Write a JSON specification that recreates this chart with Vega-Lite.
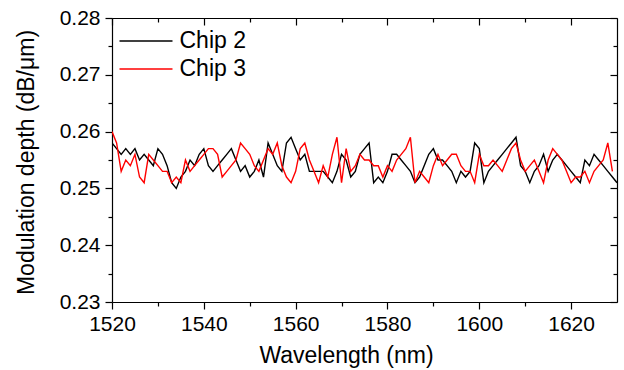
{
  "$schema": "https://vega.github.io/schema/vega-lite/v6.json",
  "width": 505,
  "height": 284,
  "autosize": {"type": "none"},
  "padding": {"left": 112, "top": 18, "right": 7, "bottom": 68},
  "background": "white",
  "config": {
    "view": {"stroke": null},
    "font": "Liberation Sans",
    "axis": {
      "grid": false,
      "domainColor": "black",
      "domainWidth": 1.2,
      "tickColor": "black",
      "tickWidth": 1.2,
      "labelFont": "Liberation Sans",
      "labelFontSize": 21,
      "labelColor": "black",
      "labelFlush": false,
      "labelBound": false,
      "labelOverlap": false,
      "titleFont": "Liberation Sans",
      "titleFontSize": 23,
      "titleFontWeight": "normal",
      "titleColor": "black"
    }
  },
  "datasets": {
    "depth": [
      {"wl":1520,"chip":"Chip 2","v":0.258},{"wl":1521,"chip":"Chip 2","v":0.257},{"wl":1522,"chip":"Chip 2","v":0.256},{"wl":1523,"chip":"Chip 2","v":0.257},{"wl":1524,"chip":"Chip 2","v":0.256},{"wl":1525,"chip":"Chip 2","v":0.257},{"wl":1526,"chip":"Chip 2","v":0.255},{"wl":1527,"chip":"Chip 2","v":0.256},{"wl":1528,"chip":"Chip 2","v":0.255},{"wl":1529,"chip":"Chip 2","v":0.254},
      {"wl":1530,"chip":"Chip 2","v":0.257},{"wl":1531,"chip":"Chip 2","v":0.256},{"wl":1532,"chip":"Chip 2","v":0.254},{"wl":1533,"chip":"Chip 2","v":0.251},{"wl":1534,"chip":"Chip 2","v":0.250},{"wl":1535,"chip":"Chip 2","v":0.252},{"wl":1536,"chip":"Chip 2","v":0.253},{"wl":1537,"chip":"Chip 2","v":0.255},{"wl":1538,"chip":"Chip 2","v":0.254},{"wl":1539,"chip":"Chip 2","v":0.256},
      {"wl":1540,"chip":"Chip 2","v":0.257},{"wl":1541,"chip":"Chip 2","v":0.254},{"wl":1542,"chip":"Chip 2","v":0.253},{"wl":1543,"chip":"Chip 2","v":0.254},{"wl":1544,"chip":"Chip 2","v":0.255},{"wl":1545,"chip":"Chip 2","v":0.256},{"wl":1546,"chip":"Chip 2","v":0.257},{"wl":1547,"chip":"Chip 2","v":0.255},{"wl":1548,"chip":"Chip 2","v":0.253},{"wl":1549,"chip":"Chip 2","v":0.254},
      {"wl":1550,"chip":"Chip 2","v":0.252},{"wl":1551,"chip":"Chip 2","v":0.253},{"wl":1552,"chip":"Chip 2","v":0.255},{"wl":1553,"chip":"Chip 2","v":0.252},{"wl":1554,"chip":"Chip 2","v":0.258},{"wl":1555,"chip":"Chip 2","v":0.256},{"wl":1556,"chip":"Chip 2","v":0.254},{"wl":1557,"chip":"Chip 2","v":0.253},{"wl":1558,"chip":"Chip 2","v":0.258},{"wl":1559,"chip":"Chip 2","v":0.259},
      {"wl":1560,"chip":"Chip 2","v":0.257},{"wl":1561,"chip":"Chip 2","v":0.255},{"wl":1562,"chip":"Chip 2","v":0.256},{"wl":1563,"chip":"Chip 2","v":0.253},{"wl":1564,"chip":"Chip 2","v":0.253},{"wl":1565,"chip":"Chip 2","v":0.253},{"wl":1566,"chip":"Chip 2","v":0.253},{"wl":1567,"chip":"Chip 2","v":0.252},{"wl":1568,"chip":"Chip 2","v":0.251},{"wl":1569,"chip":"Chip 2","v":0.253},
      {"wl":1570,"chip":"Chip 2","v":0.256},{"wl":1571,"chip":"Chip 2","v":0.255},{"wl":1572,"chip":"Chip 2","v":0.252},{"wl":1573,"chip":"Chip 2","v":0.253},{"wl":1574,"chip":"Chip 2","v":0.256},{"wl":1575,"chip":"Chip 2","v":0.257},{"wl":1576,"chip":"Chip 2","v":0.258},{"wl":1577,"chip":"Chip 2","v":0.251},{"wl":1578,"chip":"Chip 2","v":0.252},{"wl":1579,"chip":"Chip 2","v":0.251},
      {"wl":1580,"chip":"Chip 2","v":0.253},{"wl":1581,"chip":"Chip 2","v":0.256},{"wl":1582,"chip":"Chip 2","v":0.256},{"wl":1583,"chip":"Chip 2","v":0.255},{"wl":1584,"chip":"Chip 2","v":0.254},{"wl":1585,"chip":"Chip 2","v":0.253},{"wl":1586,"chip":"Chip 2","v":0.251},{"wl":1587,"chip":"Chip 2","v":0.252},{"wl":1588,"chip":"Chip 2","v":0.254},{"wl":1589,"chip":"Chip 2","v":0.256},
      {"wl":1590,"chip":"Chip 2","v":0.257},{"wl":1591,"chip":"Chip 2","v":0.255},{"wl":1592,"chip":"Chip 2","v":0.255},{"wl":1593,"chip":"Chip 2","v":0.254},{"wl":1594,"chip":"Chip 2","v":0.253},{"wl":1595,"chip":"Chip 2","v":0.251},{"wl":1596,"chip":"Chip 2","v":0.253},{"wl":1597,"chip":"Chip 2","v":0.252},{"wl":1598,"chip":"Chip 2","v":0.253},{"wl":1599,"chip":"Chip 2","v":0.258},
      {"wl":1600,"chip":"Chip 2","v":0.257},{"wl":1601,"chip":"Chip 2","v":0.251},{"wl":1602,"chip":"Chip 2","v":0.253},{"wl":1603,"chip":"Chip 2","v":0.254},{"wl":1604,"chip":"Chip 2","v":0.255},{"wl":1605,"chip":"Chip 2","v":0.256},{"wl":1606,"chip":"Chip 2","v":0.257},{"wl":1607,"chip":"Chip 2","v":0.258},{"wl":1608,"chip":"Chip 2","v":0.259},{"wl":1609,"chip":"Chip 2","v":0.254},
      {"wl":1610,"chip":"Chip 2","v":0.253},{"wl":1611,"chip":"Chip 2","v":0.251},{"wl":1612,"chip":"Chip 2","v":0.253},{"wl":1613,"chip":"Chip 2","v":0.254},{"wl":1614,"chip":"Chip 2","v":0.256},{"wl":1615,"chip":"Chip 2","v":0.253},{"wl":1616,"chip":"Chip 2","v":0.255},{"wl":1617,"chip":"Chip 2","v":0.256},{"wl":1618,"chip":"Chip 2","v":0.255},{"wl":1619,"chip":"Chip 2","v":0.254},
      {"wl":1620,"chip":"Chip 2","v":0.253},{"wl":1621,"chip":"Chip 2","v":0.252},{"wl":1622,"chip":"Chip 2","v":0.251},{"wl":1623,"chip":"Chip 2","v":0.255},{"wl":1624,"chip":"Chip 2","v":0.254},{"wl":1625,"chip":"Chip 2","v":0.256},{"wl":1626,"chip":"Chip 2","v":0.255},{"wl":1627,"chip":"Chip 2","v":0.254},{"wl":1628,"chip":"Chip 2","v":0.253},{"wl":1629,"chip":"Chip 2","v":0.252},
      {"wl":1630,"chip":"Chip 2","v":0.251},
      {"wl":1520,"chip":"Chip 3","v":0.260},{"wl":1521,"chip":"Chip 3","v":0.258},{"wl":1522,"chip":"Chip 3","v":0.253},{"wl":1523,"chip":"Chip 3","v":0.255},{"wl":1524,"chip":"Chip 3","v":0.254},{"wl":1525,"chip":"Chip 3","v":0.256},{"wl":1526,"chip":"Chip 3","v":0.252},{"wl":1527,"chip":"Chip 3","v":0.251},{"wl":1528,"chip":"Chip 3","v":0.256},{"wl":1529,"chip":"Chip 3","v":0.255},
      {"wl":1530,"chip":"Chip 3","v":0.254},{"wl":1531,"chip":"Chip 3","v":0.253},{"wl":1532,"chip":"Chip 3","v":0.253},{"wl":1533,"chip":"Chip 3","v":0.251},{"wl":1534,"chip":"Chip 3","v":0.252},{"wl":1535,"chip":"Chip 3","v":0.251},{"wl":1536,"chip":"Chip 3","v":0.255},{"wl":1537,"chip":"Chip 3","v":0.253},{"wl":1538,"chip":"Chip 3","v":0.254},{"wl":1539,"chip":"Chip 3","v":0.255},
      {"wl":1540,"chip":"Chip 3","v":0.256},{"wl":1541,"chip":"Chip 3","v":0.257},{"wl":1542,"chip":"Chip 3","v":0.257},{"wl":1543,"chip":"Chip 3","v":0.256},{"wl":1544,"chip":"Chip 3","v":0.252},{"wl":1545,"chip":"Chip 3","v":0.253},{"wl":1546,"chip":"Chip 3","v":0.254},{"wl":1547,"chip":"Chip 3","v":0.255},{"wl":1548,"chip":"Chip 3","v":0.258},{"wl":1549,"chip":"Chip 3","v":0.257},
      {"wl":1550,"chip":"Chip 3","v":0.256},{"wl":1551,"chip":"Chip 3","v":0.254},{"wl":1552,"chip":"Chip 3","v":0.253},{"wl":1553,"chip":"Chip 3","v":0.255},{"wl":1554,"chip":"Chip 3","v":0.257},{"wl":1555,"chip":"Chip 3","v":0.256},{"wl":1556,"chip":"Chip 3","v":0.258},{"wl":1557,"chip":"Chip 3","v":0.254},{"wl":1558,"chip":"Chip 3","v":0.252},{"wl":1559,"chip":"Chip 3","v":0.251},
      {"wl":1560,"chip":"Chip 3","v":0.253},{"wl":1561,"chip":"Chip 3","v":0.257},{"wl":1562,"chip":"Chip 3","v":0.258},{"wl":1563,"chip":"Chip 3","v":0.255},{"wl":1564,"chip":"Chip 3","v":0.253},{"wl":1565,"chip":"Chip 3","v":0.251},{"wl":1566,"chip":"Chip 3","v":0.254},{"wl":1567,"chip":"Chip 3","v":0.252},{"wl":1568,"chip":"Chip 3","v":0.256},{"wl":1569,"chip":"Chip 3","v":0.259},
      {"wl":1570,"chip":"Chip 3","v":0.251},{"wl":1571,"chip":"Chip 3","v":0.257},{"wl":1572,"chip":"Chip 3","v":0.253},{"wl":1573,"chip":"Chip 3","v":0.254},{"wl":1574,"chip":"Chip 3","v":0.256},{"wl":1575,"chip":"Chip 3","v":0.255},{"wl":1576,"chip":"Chip 3","v":0.255},{"wl":1577,"chip":"Chip 3","v":0.254},{"wl":1578,"chip":"Chip 3","v":0.254},{"wl":1579,"chip":"Chip 3","v":0.252},
      {"wl":1580,"chip":"Chip 3","v":0.254},{"wl":1581,"chip":"Chip 3","v":0.253},{"wl":1582,"chip":"Chip 3","v":0.255},{"wl":1583,"chip":"Chip 3","v":0.256},{"wl":1584,"chip":"Chip 3","v":0.257},{"wl":1585,"chip":"Chip 3","v":0.259},{"wl":1586,"chip":"Chip 3","v":0.251},{"wl":1587,"chip":"Chip 3","v":0.253},{"wl":1588,"chip":"Chip 3","v":0.252},{"wl":1589,"chip":"Chip 3","v":0.251},
      {"wl":1590,"chip":"Chip 3","v":0.254},{"wl":1591,"chip":"Chip 3","v":0.256},{"wl":1592,"chip":"Chip 3","v":0.254},{"wl":1593,"chip":"Chip 3","v":0.255},{"wl":1594,"chip":"Chip 3","v":0.256},{"wl":1595,"chip":"Chip 3","v":0.256},{"wl":1596,"chip":"Chip 3","v":0.254},{"wl":1597,"chip":"Chip 3","v":0.253},{"wl":1598,"chip":"Chip 3","v":0.253},{"wl":1599,"chip":"Chip 3","v":0.251},
      {"wl":1600,"chip":"Chip 3","v":0.256},{"wl":1601,"chip":"Chip 3","v":0.254},{"wl":1602,"chip":"Chip 3","v":0.254},{"wl":1603,"chip":"Chip 3","v":0.255},{"wl":1604,"chip":"Chip 3","v":0.254},{"wl":1605,"chip":"Chip 3","v":0.253},{"wl":1606,"chip":"Chip 3","v":0.255},{"wl":1607,"chip":"Chip 3","v":0.257},{"wl":1608,"chip":"Chip 3","v":0.258},{"wl":1609,"chip":"Chip 3","v":0.255},
      {"wl":1610,"chip":"Chip 3","v":0.253},{"wl":1611,"chip":"Chip 3","v":0.254},{"wl":1612,"chip":"Chip 3","v":0.255},{"wl":1613,"chip":"Chip 3","v":0.253},{"wl":1614,"chip":"Chip 3","v":0.251},{"wl":1615,"chip":"Chip 3","v":0.255},{"wl":1616,"chip":"Chip 3","v":0.257},{"wl":1617,"chip":"Chip 3","v":0.256},{"wl":1618,"chip":"Chip 3","v":0.255},{"wl":1619,"chip":"Chip 3","v":0.253},
      {"wl":1620,"chip":"Chip 3","v":0.251},{"wl":1621,"chip":"Chip 3","v":0.252},{"wl":1622,"chip":"Chip 3","v":0.252},{"wl":1623,"chip":"Chip 3","v":0.253},{"wl":1624,"chip":"Chip 3","v":0.251},{"wl":1625,"chip":"Chip 3","v":0.253},{"wl":1626,"chip":"Chip 3","v":0.254},{"wl":1627,"chip":"Chip 3","v":0.255},{"wl":1628,"chip":"Chip 3","v":0.258},{"wl":1629,"chip":"Chip 3","v":0.253}
    ]
  },
  "data": {"name": "depth"},
  "layer": [
    {
      "mark": {"type": "line", "strokeWidth": 1.4, "clip": true},
      "encoding": {
        "x": {
          "field": "wl", "type": "quantitative",
          "scale": {"domain": [1520, 1630], "nice": false, "zero": false},
          "axis": {
            "orient": "bottom", "title": "Wavelength (nm)", "format": "d",
            "values": [1520, 1540, 1560, 1580, 1600, 1620], "tickSize": 7, "labelPadding": 4,
            "titleX": 234, "titleY": 60, "titleAlign": "center", "titleBaseline": "alphabetic"
          }
        },
        "y": {
          "field": "v", "type": "quantitative",
          "scale": {"domain": [0.23, 0.28], "nice": false, "zero": false},
          "axis": {
            "orient": "left", "title": "Modulation depth (dB/\u03bcm)", "format": ".2f",
            "values": [0.23, 0.24, 0.25, 0.26, 0.27, 0.28], "tickSize": 7, "labelPadding": 5,
            "titleX": -79, "titleY": 144, "titleAngle": -90, "titleAlign": "center", "titleBaseline": "alphabetic"
          }
        },
        "color": {
          "field": "chip", "type": "nominal",
          "scale": {"domain": ["Chip 2", "Chip 3"], "range": ["#000000", "#ff0000"]},
          "legend": {
            "orient": "none", "legendX": 20, "legendY": 9, "title": null, "padding": 0,
            "symbolType": "M-2,0H2", "symbolSize": 702, "symbolStrokeWidth": 1.4,
            "symbolFillColor": "transparent",
            "labelFontSize": 23, "labelFont": "Liberation Sans", "labelColor": "black",
            "rowPadding": 2, "labelOffset": 19.5
          }
        }
      }
    },
    {
      "mark": {"type": "line", "strokeOpacity": 0},
      "encoding": {
        "x": {"field": "wl", "type": "quantitative", "axis": {"orient": "top", "title": null, "labels": false, "values": [1520, 1540, 1560, 1580, 1600, 1620], "tickSize": -7}},
        "y": {"field": "v", "type": "quantitative", "axis": {"orient": "right", "title": null, "labels": false, "values": [0.23, 0.24, 0.25, 0.26, 0.27, 0.28], "tickSize": -7}}
      }
    },
    {
      "mark": {"type": "line", "strokeOpacity": 0},
      "encoding": {
        "x": {"field": "wl", "type": "quantitative", "axis": {"orient": "bottom", "title": null, "labels": false, "domain": false, "values": [1530, 1550, 1570, 1590, 1610], "tickSize": 4}},
        "y": {"field": "v", "type": "quantitative", "axis": {"orient": "left", "title": null, "labels": false, "domain": false, "values": [0.235, 0.245, 0.255, 0.265, 0.275], "tickSize": 4}}
      }
    },
    {
      "mark": {"type": "line", "strokeOpacity": 0},
      "encoding": {
        "x": {"field": "wl", "type": "quantitative", "axis": {"orient": "top", "title": null, "labels": false, "domain": false, "values": [1530, 1550, 1570, 1590, 1610], "tickSize": -4}},
        "y": {"field": "v", "type": "quantitative", "axis": {"orient": "right", "title": null, "labels": false, "domain": false, "values": [0.235, 0.245, 0.255, 0.265, 0.275], "tickSize": -4}}
      }
    }
  ]
}
